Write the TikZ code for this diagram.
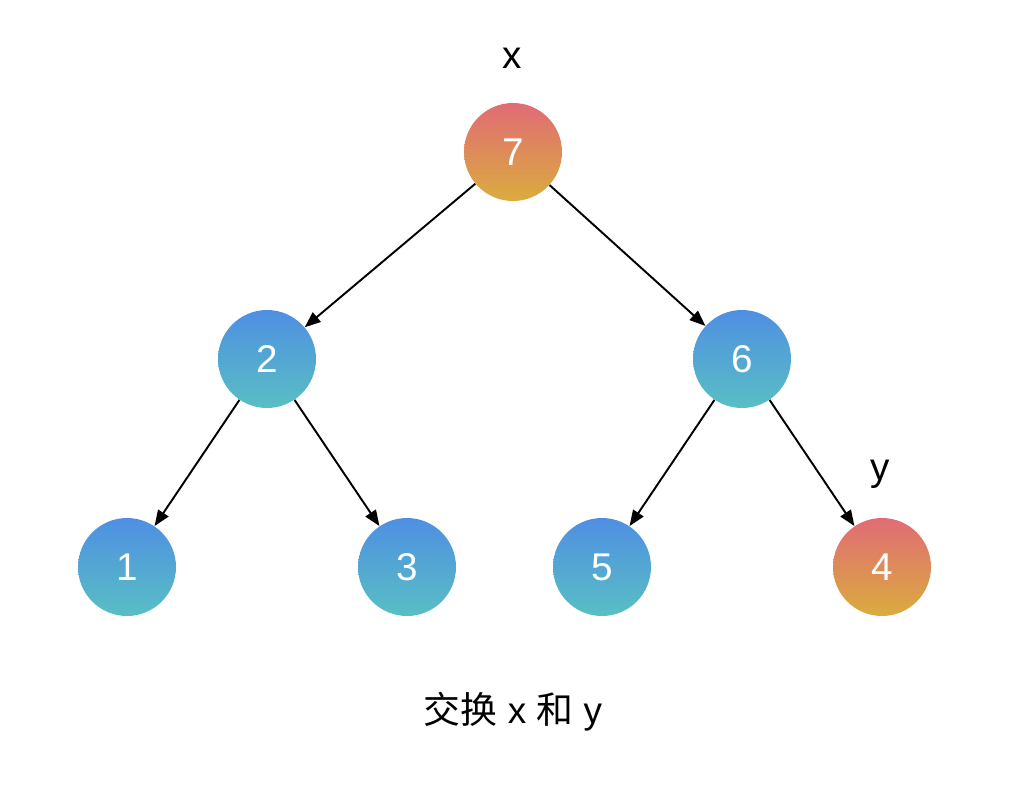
\documentclass[tikz,border=0pt]{standalone}
\usepackage{fontspec}
\setmainfont{Liberation Sans}
\newfontfamily\cjk{Noto Sans CJK SC}
\usetikzlibrary{arrows.meta}
\definecolor{btop}{HTML}{4F8FE3}\definecolor{bbot}{HTML}{58BFC3}
\definecolor{rtop}{HTML}{E06B75}\definecolor{rbot}{HTML}{DBAC3E}
\begin{document}
\begin{tikzpicture}[x=0.02cm,y=-0.02cm,
  nd/.style={circle,minimum size=1.96cm,inner sep=0,text=white,font=\fontsize{22}{24}\selectfont},
  bl/.style={nd,top color=btop,bottom color=bbot},
  rd/.style={nd,top color=rtop,bottom color=rbot},
  ar/.style={-{Triangle[length=9pt,width=7pt]},line width=1.1pt},
  lb/.style={font=\fontsize{22}{24}\selectfont}]
\useasboundingbox (0,0) rectangle (1028,792);
\node[rd] (n7) at (513,152) {7};
\node[bl] (n2) at (267,359) {2};
\node[bl] (n6) at (742,359) {6};
\node[bl] (n1) at (127,567) {1};
\node[bl] (n3) at (407,567) {3};
\node[bl] (n5) at (602,567) {5};
\node[rd] (n4) at (882,567) {4};
\node[lb] (lx) at (512,58) {x};
\node[lb] (ly) at (880,474) {y};
\node[font=\fontsize{21}{24}\selectfont] (cap) at (513,712) {{\cjk 交换} x {\cjk 和} y};
\draw[ar] (n7) -- (n2);
\draw[ar] (n7) -- (n6);
\draw[ar] (n2) -- (n1);
\draw[ar] (n2) -- (n3);
\draw[ar] (n6) -- (n5);
\draw[ar] (n6) -- (n4);
\end{tikzpicture}
\end{document}
